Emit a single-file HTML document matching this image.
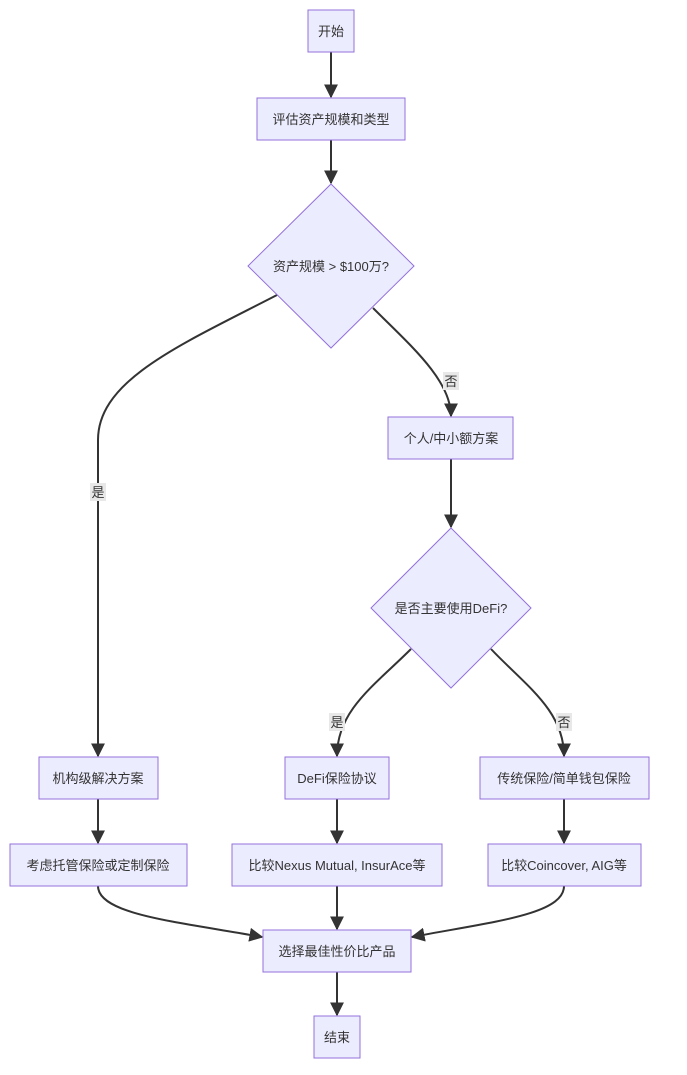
<!DOCTYPE html>
<html><head><meta charset="utf-8"><style>
html,body{margin:0;padding:0;background:#fff;}
svg text{font-family:"Liberation Sans","Noto Sans CJK SC",sans-serif;font-size:13px;fill:#333;}
</style></head><body>
<svg width="687" height="1070" viewBox="0 0 687 1070" xmlns="http://www.w3.org/2000/svg">
<defs><marker id="a" viewBox="0 0 10 10" refX="9" refY="5" markerWidth="7" markerHeight="7" orient="auto-start-reverse"><path d="M0,0 L10,5 L0,10 z" fill="#333"/></marker></defs>
<g fill="none" stroke="#333" stroke-width="2" marker-end="url(#a)">
<path d="M331,52 L331,97"/>
<path d="M331,140 L331,183"/>
<path d="M277,295 C180,345 98,380 98,440 L98,756"/>
<path d="M373,308 C410,345 451,380 451,416"/>
<path d="M451,459 L451,527"/>
<path d="M411,649 C375,685 337,710 337,756"/>
<path d="M491,649 C525,685 564,710 564,756"/>
<path d="M98,799 L98,843"/>
<path d="M337,799 L337,843"/>
<path d="M564,799 L564,843"/>
<path d="M98,886 C98,915 180,922 262,937"/>
<path d="M337,886 L337,929"/>
<path d="M564,886 C564,915 490,922 412,937"/>
<path d="M337,972 L337,1015"/>
</g>
<g fill="#ECECFF" stroke="#9370DB" stroke-width="1">
<rect x="308" y="10" width="46" height="42"/>
<rect x="257" y="98" width="148" height="42"/>
<polygon points="331,184 414,266 331,348 248,266"/>
<rect x="388" y="417" width="125" height="42"/>
<polygon points="451,528 531,608 451,688 371,608"/>
<rect x="39" y="757" width="119" height="42"/>
<rect x="285" y="757" width="104" height="42"/>
<rect x="480" y="757" width="169" height="42"/>
<rect x="10" y="844" width="177" height="42"/>
<rect x="232" y="844" width="210" height="42"/>
<rect x="488" y="844" width="153" height="42"/>
<rect x="263" y="930" width="148" height="42"/>
<rect x="314" y="1016" width="46" height="42"/>
</g>
<g fill="#e8e8e8">
<rect x="90" y="483" width="16" height="18"/>
<rect x="443" y="372" width="16" height="18"/>
<rect x="329" y="713" width="16" height="18"/>
<rect x="556" y="713" width="16" height="18"/>
</g>
<g text-anchor="middle">
<text x="331" y="36">开始</text>
<text x="331" y="124">评估资产规模和类型</text>
<text x="331" y="271">资产规模 &gt; $100万?</text>
<text x="451" y="443">个人/中小额方案</text>
<text x="451" y="613">是否主要使用DeFi?</text>
<text x="98" y="783">机构级解决方案</text>
<text x="337" y="783">DeFi保险协议</text>
<text x="564" y="783">传统保险/简单钱包保险</text>
<text x="98" y="870">考虑托管保险或定制保险</text>
<text x="337" y="870">比较Nexus Mutual, InsurAce等</text>
<text x="564" y="870">比较Coincover, AIG等</text>
<text x="337" y="956">选择最佳性价比产品</text>
<text x="337" y="1042">结束</text>
<text x="98" y="497">是</text>
<text x="451" y="386">否</text>
<text x="337" y="727">是</text>
<text x="564" y="727">否</text>
</g>
</svg>
</body></html>
